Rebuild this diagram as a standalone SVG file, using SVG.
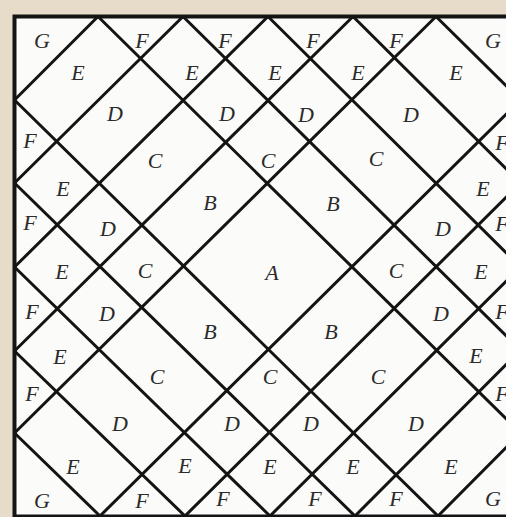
<svg xmlns="http://www.w3.org/2000/svg" width="506" height="517" viewBox="0 0 506 517">
<style>
.ln{stroke:#141414;stroke-width:3;stroke-linecap:round;fill:none}
.lb{font-family:"Liberation Serif","Times New Roman",serif;font-style:italic;font-size:22px;fill:#2b2b2b;text-anchor:middle}
</style>
<rect x="0" y="0" width="506" height="517" fill="#e6dcc9"/>
<rect id="square" x="14.5" y="16.5" width="520" height="500" fill="#fbfbf9" stroke="#141414" stroke-width="4"/>
<g id="connectors">
<line class="ln" x1="14.5" y1="100" x2="98" y2="16.5"/>
<line class="ln" x1="14.5" y1="183" x2="183" y2="16.5"/>
<line class="ln" x1="14.5" y1="267" x2="268" y2="16.5"/>
<line class="ln" x1="14.5" y1="351" x2="353" y2="16.5"/>
<line class="ln" x1="14.5" y1="433" x2="436" y2="16.5"/>
<line class="ln" x1="100" y1="516" x2="520.5" y2="100"/>
<line class="ln" x1="185" y1="516" x2="520.5" y2="183"/>
<line class="ln" x1="270" y1="516" x2="520.5" y2="267"/>
<line class="ln" x1="355" y1="516" x2="520.5" y2="350"/>
<line class="ln" x1="438" y1="516" x2="520.5" y2="433"/>
<line class="ln" x1="98" y1="16.5" x2="520.5" y2="433"/>
<line class="ln" x1="183" y1="16.5" x2="520.5" y2="350"/>
<line class="ln" x1="268" y1="16.5" x2="520.5" y2="267"/>
<line class="ln" x1="353" y1="16.5" x2="520.5" y2="183"/>
<line class="ln" x1="436" y1="16.5" x2="520.5" y2="100"/>
<line class="ln" x1="14.5" y1="100" x2="438" y2="516"/>
<line class="ln" x1="14.5" y1="183" x2="355" y2="516"/>
<line class="ln" x1="14.5" y1="267" x2="270" y2="516"/>
<line class="ln" x1="14.5" y1="351" x2="185" y2="516"/>
<line class="ln" x1="14.5" y1="433" x2="100" y2="516"/>
</g>
<g id="labels">
<text class="lb" x="42" y="48">G</text>
<text class="lb" x="142" y="48">F</text>
<text class="lb" x="225" y="48">F</text>
<text class="lb" x="313" y="48">F</text>
<text class="lb" x="396" y="48">F</text>
<text class="lb" x="493" y="48">G</text>
<text class="lb" x="78" y="80">E</text>
<text class="lb" x="192" y="80">E</text>
<text class="lb" x="275" y="80">E</text>
<text class="lb" x="358" y="80">E</text>
<text class="lb" x="456" y="80">E</text>
<text class="lb" x="115" y="121">D</text>
<text class="lb" x="227" y="121">D</text>
<text class="lb" x="306" y="122">D</text>
<text class="lb" x="411" y="122">D</text>
<text class="lb" x="30" y="148">F</text>
<text class="lb" x="155" y="168">C</text>
<text class="lb" x="268" y="168">C</text>
<text class="lb" x="376" y="166">C</text>
<text class="lb" x="502" y="150">F</text>
<text class="lb" x="63" y="196">E</text>
<text class="lb" x="210" y="210">B</text>
<text class="lb" x="333" y="211">B</text>
<text class="lb" x="483" y="196">E</text>
<text class="lb" x="30" y="230">F</text>
<text class="lb" x="108" y="236">D</text>
<text class="lb" x="443" y="236">D</text>
<text class="lb" x="502" y="231">F</text>
<text class="lb" x="62" y="279">E</text>
<text class="lb" x="145" y="278">C</text>
<text class="lb" x="272" y="280">A</text>
<text class="lb" x="396" y="278">C</text>
<text class="lb" x="481" y="279">E</text>
<text class="lb" x="32" y="319">F</text>
<text class="lb" x="107" y="321">D</text>
<text class="lb" x="441" y="321">D</text>
<text class="lb" x="502" y="319">F</text>
<text class="lb" x="210" y="339">B</text>
<text class="lb" x="331" y="339">B</text>
<text class="lb" x="60" y="364">E</text>
<text class="lb" x="476" y="363">E</text>
<text class="lb" x="157" y="384">C</text>
<text class="lb" x="270" y="384">C</text>
<text class="lb" x="378" y="384">C</text>
<text class="lb" x="32" y="401">F</text>
<text class="lb" x="502" y="401">F</text>
<text class="lb" x="120" y="431">D</text>
<text class="lb" x="232" y="431">D</text>
<text class="lb" x="311" y="431">D</text>
<text class="lb" x="416" y="431">D</text>
<text class="lb" x="73" y="474">E</text>
<text class="lb" x="185" y="473">E</text>
<text class="lb" x="270" y="474">E</text>
<text class="lb" x="353" y="474">E</text>
<text class="lb" x="451" y="474">E</text>
<text class="lb" x="42" y="508">G</text>
<text class="lb" x="142" y="508">F</text>
<text class="lb" x="223" y="506">F</text>
<text class="lb" x="315" y="506">F</text>
<text class="lb" x="396" y="506">F</text>
<text class="lb" x="493" y="506">G</text>
</g>
</svg>
